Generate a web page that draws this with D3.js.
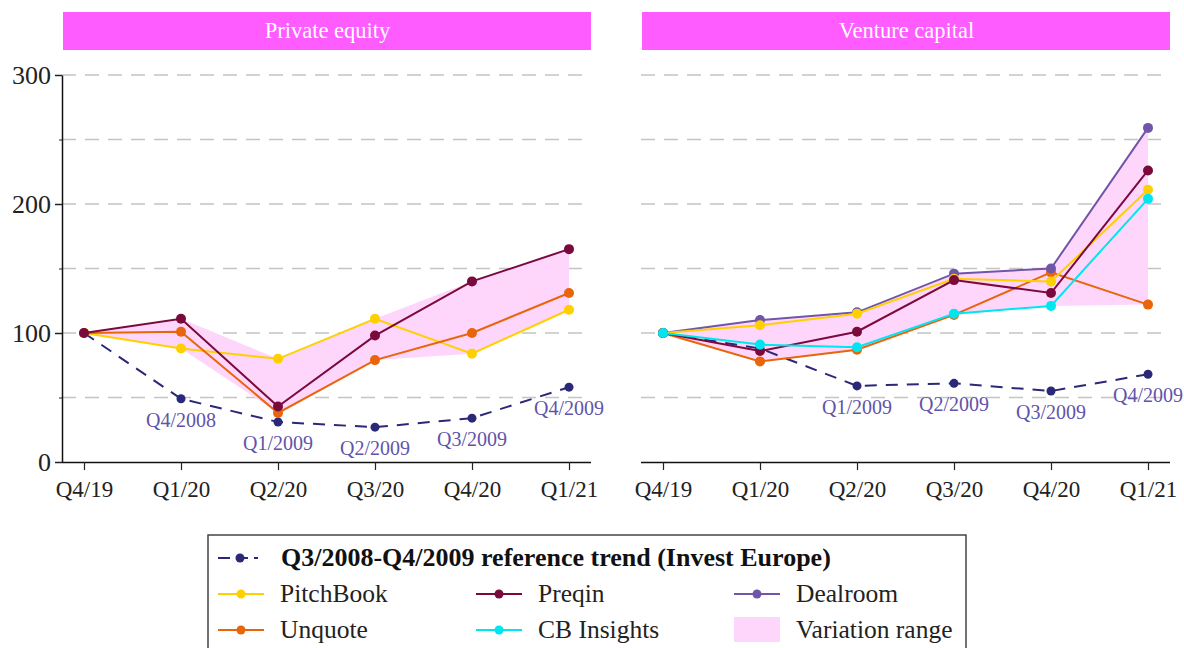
<!DOCTYPE html>
<html><head><meta charset="utf-8">
<script src="https://cdn.jsdelivr.net/npm/d3@7"></script>
<style>
body{margin:0;background:#fff;}
svg text{font-family:"Liberation Serif","DejaVu Serif",serif;}
</style></head><body>
<svg id="chart" width="1184" height="648"></svg>
<script>
const quarters = ["Q4/19","Q1/20","Q2/20","Q3/20","Q4/20","Q1/21"];
const panels = ["Private equity","Venture capital"];
const yTicks = [0,100,200,300];
const yGrid = [50,100,150,200,250,300];

// Private equity
const pePitchBook = [100,88,80,111,84,118];
const pePreqin    = [100,111,43,98,140,165];
const peUnquote   = [100,101,38,79,100,131];
const peRef       = [100,49,31,27,34,58];
const peRefLabels = ["","Q4/2008","Q1/2009","Q2/2009","Q3/2009","Q4/2009"];

// Venture capital
const vcPitchBook = [100,106,115,142,140,211];
const vcPreqin    = [100,86,101,141,131,226];
const vcUnquote   = [100,78,87,114,147,122];
const vcCB        = [100,91,89,115,121,204];
const vcDealroom  = [100,110,116,146,150,259];
const vcRef       = [100,88,59,61,55,68];
const vcRefLabels = ["","","Q1/2009","Q2/2009","Q3/2009","Q4/2009"];

const C = {pitch:"#ffd000", preqin:"#7a0a3c", unquote:"#e8650a", cb:"#00e6f0", dealroom:"#7056a8", ref:"#2b2878", band:"#ffd6fb", label:"#5f54aa", strip:"#ff5cff"};

const svg = d3.select("#chart");
const y = d3.scaleLinear().domain([0,300]).range([462,75]);

function drawPanel(x0, x1, title, series, ref, refLabels, showY){
  const g = svg.append("g");
  const x = d3.scaleLinear().domain([0,5]).range([x0+22, x1-22]);
  // strip
  g.append("rect").attr("x",x0+1).attr("y",12).attr("width",x1-x0-1).attr("height",38).attr("fill",C.strip);
  g.append("text").attr("x",(x0+x1)/2+1).attr("y",38).attr("text-anchor","middle")
    .attr("fill","#fff").attr("font-size",22.5).text(title);
  // grid
  g.selectAll(".grid").data(yGrid).enter().append("line")
    .attr("x1",x0).attr("x2",x1).attr("y1",d=>y(d)).attr("y2",d=>y(d))
    .attr("stroke","#c4c4c4").attr("stroke-width",1.5).attr("stroke-dasharray","14,9");
  // x axis
  const xa = g.append("g").attr("transform","translate(0,462)")
    .call(d3.axisBottom(x).tickValues(d3.range(6)).tickFormat(i=>quarters[i]).tickSize(8).tickPadding(11).tickSizeOuter(0));
  xa.select(".domain").attr("d",`M${x0},0.5H${x1}`).attr("stroke","#111").attr("stroke-width",1.5);
  xa.selectAll(".tick line").attr("stroke","#222").attr("stroke-width",1.2);
  xa.selectAll("text").attr("font-size",23).attr("fill","#222").attr("font-family","Liberation Serif");
  if(showY){
    const ya = g.append("g").attr("transform",`translate(${x0},0)`)
      .call(d3.axisLeft(y).tickValues(yTicks).tickSize(7).tickPadding(4).tickSizeOuter(0));
    ya.select(".domain").attr("stroke","#111").attr("stroke-width",1.5);
    ya.selectAll(".tick line").attr("stroke","#222").attr("stroke-width",1.5);
    ya.selectAll("text").attr("font-size",26).attr("fill","#222").attr("font-family","Liberation Serif");
    g.append("g").attr("transform",`translate(${x0},0)`)
      .call(d3.axisLeft(y).tickValues([50,150,250]).tickSize(3).tickFormat(""))
      .call(a=>a.select(".domain").remove())
      .selectAll("line").attr("stroke","#222");
  }
  // band
  const mins = d3.range(6).map(i=>d3.min(series,s=>s.v[i]));
  const maxs = d3.range(6).map(i=>d3.max(series,s=>s.v[i]));
  const area = d3.area().x((d,i)=>x(i)).y0((d,i)=>y(mins[i])).y1((d,i)=>y(maxs[i]));
  g.append("path").datum(mins).attr("d",area).attr("fill",C.band);
  const line = d3.line().x((d,i)=>x(i)).y(d=>y(d));
  // reference
  g.append("path").datum(ref).attr("d",line).attr("fill","none").attr("stroke",C.ref)
    .attr("stroke-width",2).attr("stroke-dasharray","12,9");
  g.selectAll(".rdot").data(ref).enter().append("circle")
    .attr("cx",(d,i)=>x(i)).attr("cy",d=>y(d)).attr("r",4.5).attr("fill",C.ref);
  g.selectAll(".rlab").data(ref).enter().append("text")
    .attr("x",(d,i)=>x(i)).attr("y",d=>y(d)+28).attr("text-anchor","middle")
    .attr("font-size",20).attr("fill",C.label).text((d,i)=>refLabels[i]);
  // series
  series.forEach(s=>{
    g.append("path").datum(s.v).attr("d",line).attr("fill","none").attr("stroke",s.c).attr("stroke-width",2);
    g.selectAll(null).data(s.v).enter().append("circle")
      .attr("cx",(d,i)=>x(i)).attr("cy",d=>y(d)).attr("r",5).attr("fill",s.c);
  });
}

drawPanel(62, 591, panels[0], [
  {v:pePitchBook,c:C.pitch},{v:peUnquote,c:C.unquote},{v:pePreqin,c:C.preqin}
], peRef, peRefLabels, true);
drawPanel(641, 1170, panels[1], [
  {v:vcUnquote,c:C.unquote},{v:vcDealroom,c:C.dealroom},{v:vcPitchBook,c:C.pitch},{v:vcPreqin,c:C.preqin},{v:vcCB,c:C.cb}
], vcRef, vcRefLabels, false);

// legend
const lg = svg.append("g");
lg.append("rect").attr("x",208).attr("y",535).attr("width",758).attr("height",130)
  .attr("fill","#fff").attr("stroke","#444").attr("stroke-width",1.5);
// reference row
lg.append("line").attr("x1",218).attr("x2",264).attr("y1",558).attr("y2",558)
  .attr("stroke",C.ref).attr("stroke-width",2).attr("stroke-dasharray","12,6,12,6,4");
lg.append("circle").attr("cx",240).attr("cy",558).attr("r",4.5).attr("fill",C.ref);
lg.append("text").attr("x",281).attr("y",566).attr("font-size",26).attr("font-weight","bold")
  .attr("fill","#111").text("Q3/2008-Q4/2009 reference trend (Invest Europe)");
const legendItems = [
  {name:"PitchBook",c:C.pitch,col:0,row:1},
  {name:"Preqin",c:C.preqin,col:1,row:1},
  {name:"Dealroom",c:C.dealroom,col:2,row:1},
  {name:"Unquote",c:C.unquote,col:0,row:2},
  {name:"CB Insights",c:C.cb,col:1,row:2},
];
const colX = [218,476,734];
const rowY = [558,594,630];
legendItems.forEach(it=>{
  const lx = colX[it.col], ly = rowY[it.row];
  lg.append("line").attr("x1",lx).attr("x2",lx+46).attr("y1",ly).attr("y2",ly).attr("stroke",it.c).attr("stroke-width",2);
  lg.append("circle").attr("cx",lx+23).attr("cy",ly).attr("r",4.5).attr("fill",it.c);
  lg.append("text").attr("x",lx+62).attr("y",ly+8).attr("font-size",25.5).attr("fill","#222").text(it.name);
});
lg.append("rect").attr("x",734).attr("y",617).attr("width",46).attr("height",25).attr("fill",C.band);
lg.append("text").attr("x",796).attr("y",638).attr("font-size",25.5).attr("fill","#222").text("Variation range");
</script>
</body></html>
